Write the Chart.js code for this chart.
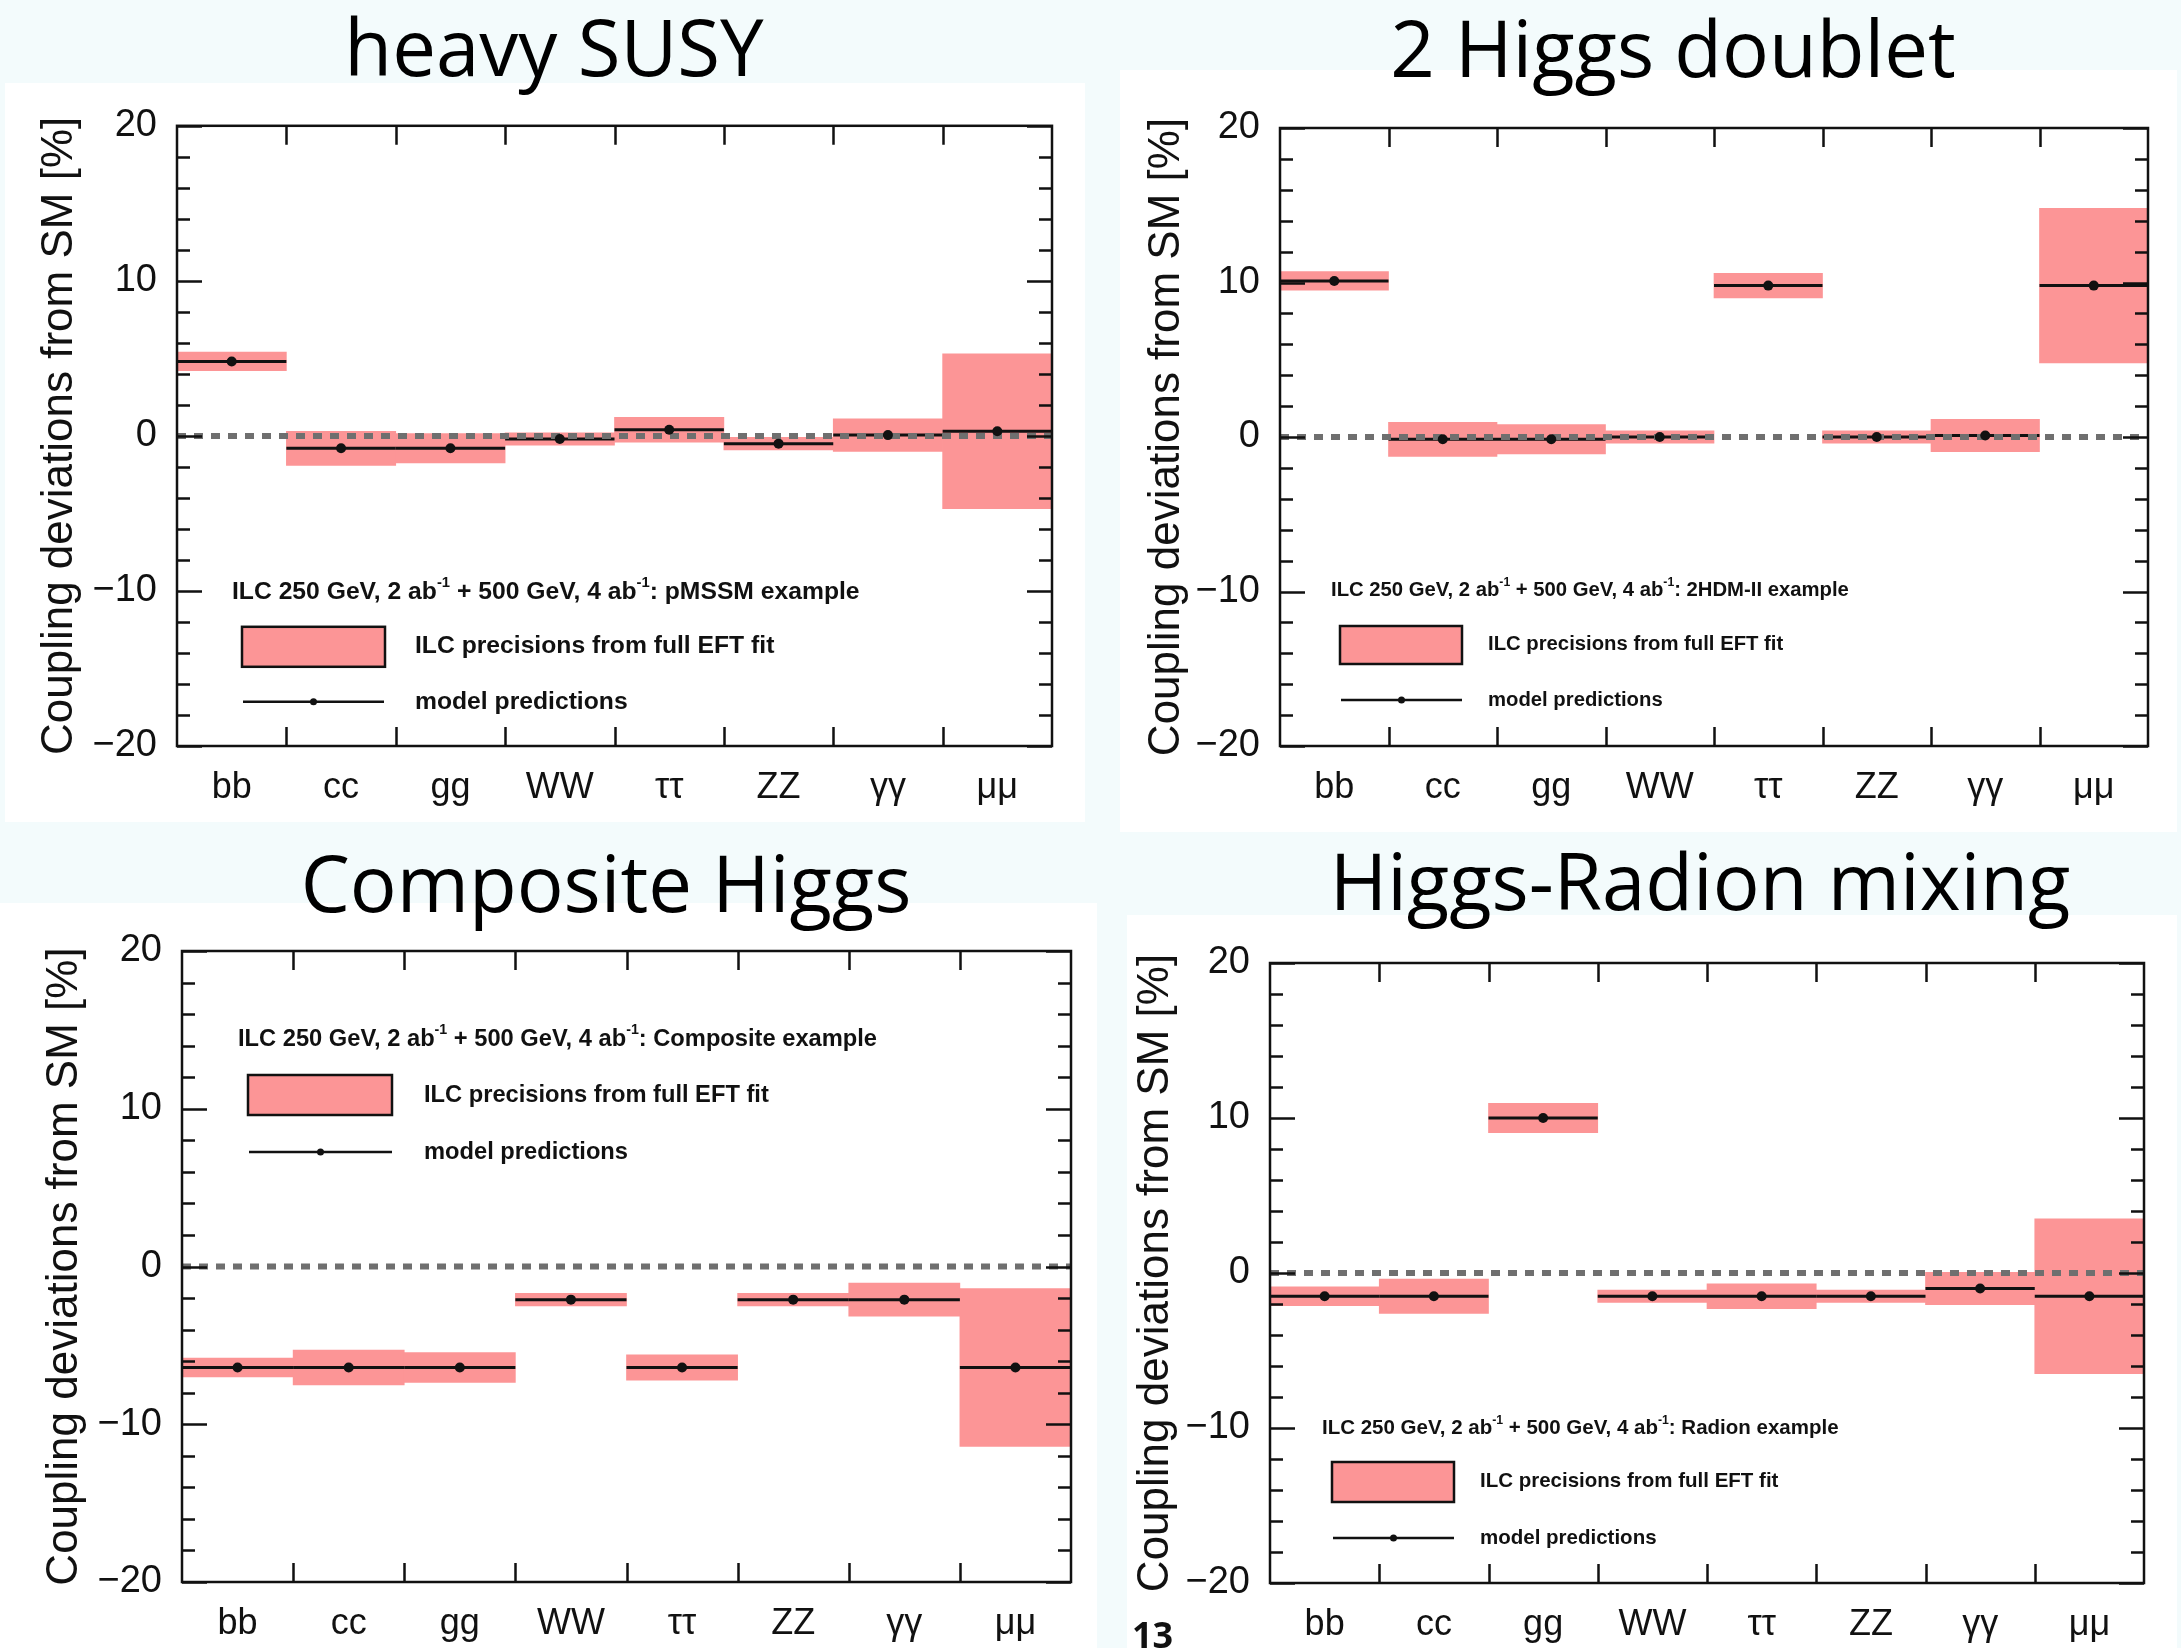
<!DOCTYPE html>
<html>
<head>
<meta charset="utf-8">
<title>Higgs coupling deviations — four BSM scenarios</title>
<script src="https://cdn.jsdelivr.net/npm/chart.js@4/dist/chart.umd.min.js"></script>
<style>
  html, body { margin: 0; padding: 0; }
  body {
    width: 2181px; height: 1648px; position: relative; overflow: hidden;
    background: #f3fbfc;
    font-family: "Liberation Sans", Arial, sans-serif;
  }
  .panel { position: absolute; background: #ffffff; z-index: 1; }
  .panel canvas { position: absolute; left: 0; top: 0; }
  .slide-title {
    position: absolute; transform: translateX(-50%); z-index: 2;
    font-family: "Open Sans", "Noto Sans", sans-serif;
    font-size: 78px; line-height: 78px; color: #000; white-space: nowrap;
  }
  .page-number {
    position: absolute; left: 1132px; top: 1617px; z-index: 2;
    font-family: "Open Sans", "Noto Sans", sans-serif; font-weight: bold;
    font-size: 36px; line-height: 36px; color: #111;
  }
</style>
</head>
<body>
<div class="page-number">13</div>
<script>
// Higgs coupling channels on the horizontal axis
const categories = ['bb', 'cc', 'gg', 'WW', 'ττ', 'ZZ', 'γγ', 'μμ'];

// Expected ILC precision (half height of each shaded band), in %
const ilcPrecision = [0.6, 1.1, 0.95, 0.4, 0.8, 0.4, 1.05, 5.0];

// Model predictions for the deviation from the SM coupling, in %
const susyPrediction      = [4.8, -0.8, -0.8, -0.2, 0.4, -0.5, 0.05, 0.3];
const thdmPrediction      = [10.1, -0.15, -0.15, 0.0, 9.8, 0.0, 0.1, 9.8];
const compositePrediction = [-6.4, -6.4, -6.4, -2.1, -6.4, -2.1, -2.1, -6.4];
const radionPrediction    = [-1.5, -1.5, 10.0, -1.5, -1.5, -1.5, -1.0, -1.5];

// Vertical axis
const yTickValues = [-20, -10, 0, 10, 20];
const yTickLabels = ['−20', '−10', '0', '10', '20'];
const yMinorStep = 2;
const smReference = 0;

const PINK = 'rgb(252,149,150)';
const FONT = '"Liberation Sans", Arial, sans-serif';

// Page layout of the four panels (page pixels) and their in-plot legends
const panels = [
  {
    title: 'heavy SUSY', titleX: 554, titleBase: 76,
    prediction: susyPrediction, scenario: 'pMSSM example',
    box: { x: 5, y: 83, w: 1080, h: 739 },
    plot: { l: 177, t: 124, r: 1052, b: 746 }, yTitleX: 60,
    legend: { size: 24.7, hx: 55, hy: 466, box: [65, 501, 208, 541], lx: 238, ly: 520, line: [66, 207], my: 576 }
  },
  {
    title: '2 Higgs doublet', titleX: 1673, titleBase: 77,
    prediction: thdmPrediction, scenario: '2HDM-II example',
    box: { x: 1120, y: 70, w: 1057, h: 762 },
    plot: { l: 1280, t: 128, r: 2148, b: 746 }, yTitleX: 1167,
    legend: { size: 20.3, hx: 51, hy: 462, box: [60, 498, 182, 536], lx: 208, ly: 516, line: [61, 182], my: 572 }
  },
  {
    title: 'Composite Higgs', titleX: 606, titleBase: 912,
    prediction: compositePrediction, scenario: 'Composite example',
    box: { x: 0, y: 903, w: 1097, h: 745 },
    plot: { l: 182, t: 951, r: 1071, b: 1582 }, yTitleX: 65,
    legend: { size: 23.7, hx: 56, hy: 88, box: [66, 124, 210, 164], lx: 242, ly: 144, line: [67, 210], my: 201 }
  },
  {
    title: 'Higgs-Radion mixing', titleX: 1700, titleBase: 910,
    prediction: radionPrediction, scenario: 'Radion example',
    box: { x: 1127, y: 915, w: 1050, h: 733 },
    plot: { l: 1270, t: 963, r: 2144, b: 1583 }, yTitleX: 1156,
    legend: { size: 20.5, hx: 52, hy: 465, box: [62, 499, 184, 539], lx: 210, ly: 518, line: [63, 184], my: 575 }
  }
];

// Draws a run of text pieces, some of them as superscripts
function drawRichText(ctx, parts, x, y, size) {
  let cx = x;
  for (const p of parts) {
    const s = p.sup ? size * 0.6 : size;
    ctx.font = `bold ${s}px ${FONT}`;
    ctx.fillText(p.text, cx, p.sup ? y - size * 0.36 : y);
    cx += ctx.measureText(p.text).width;
  }
}

// ROOT-style frame: dotted SM line, inward ticks, border and legend
const rootFrame = {
  id: 'rootFrame',
  afterDatasetDraw(chart, args) {
    if (args.index !== 1) return;
    const { ctx, chartArea: a, scales: { y } } = chart;
    const y0 = y.getPixelForValue(smReference);
    ctx.save();
    ctx.beginPath();
    ctx.setLineDash([9, 8]);
    ctx.lineWidth = 6;
    ctx.strokeStyle = '#6f6f6f';
    ctx.moveTo(a.left, y0);
    ctx.lineTo(a.right, y0);
    ctx.stroke();
    ctx.restore();
  },
  afterDraw(chart, args, opts) {
    const { ctx, chartArea: a, scales: { x, y } } = chart;
    ctx.save();
    ctx.strokeStyle = '#111';
    ctx.lineWidth = 2.5;
    ctx.beginPath();
    // y ticks on both sides, pointing inwards
    for (let v = y.min; v <= y.max + 1e-9; v += yMinorStep) {
      const py = Math.round(y.getPixelForValue(v)) + 0.5;
      const len = (Math.abs(v % 10) < 1e-9) ? 25 : 13;
      ctx.moveTo(a.left, py); ctx.lineTo(a.left + len, py);
      ctx.moveTo(a.right, py); ctx.lineTo(a.right - len, py);
    }
    // x ticks at the category boundaries
    for (let i = 1; i < categories.length; i++) {
      const px = Math.round(x.getPixelForValue(i - 0.5)) + 0.5;
      ctx.moveTo(px, a.top); ctx.lineTo(px, a.top + 19);
      ctx.moveTo(px, a.bottom); ctx.lineTo(px, a.bottom - 19);
    }
    ctx.stroke();
    ctx.strokeRect(a.left, a.top, a.right - a.left, a.bottom - a.top);

    // legend
    const L = opts;
    const ox = a.left, oy = a.top;
    ctx.fillStyle = '#111';
    ctx.textAlign = 'left';
    ctx.textBaseline = 'middle';
    drawRichText(ctx, [
      { text: 'ILC 250 GeV, 2 ab' }, { text: '-1', sup: true },
      { text: ' + 500 GeV, 4 ab' }, { text: '-1', sup: true },
      { text: ': ' + L.scenario }
    ], ox + L.hx, oy + L.hy, L.size);

    const [bx0, by0, bx1, by1] = L.box;
    ctx.fillStyle = PINK;
    ctx.fillRect(ox + bx0, oy + by0, bx1 - bx0, by1 - by0);
    ctx.lineWidth = 2.5;
    ctx.strokeStyle = '#111';
    ctx.strokeRect(ox + bx0, oy + by0, bx1 - bx0, by1 - by0);

    ctx.fillStyle = '#111';
    ctx.font = `bold ${L.size}px ${FONT}`;
    ctx.fillText('ILC precisions from full EFT fit', ox + L.lx, oy + L.ly);

    ctx.beginPath();
    ctx.lineWidth = 2.5;
    ctx.moveTo(ox + L.line[0], oy + L.my);
    ctx.lineTo(ox + L.line[1], oy + L.my);
    ctx.stroke();
    ctx.beginPath();
    ctx.arc(ox + (L.line[0] + L.line[1]) / 2, oy + L.my, 3.5, 0, Math.PI * 2);
    ctx.fill();
    ctx.font = `bold ${L.size}px ${FONT}`;
    ctx.fillText('model predictions', ox + L.lx, oy + L.my);
    ctx.restore();
  }
};

const halfBin = (c) => {
  const s = c.chart.scales.x;
  return Math.abs(s.getPixelForValue(1) - s.getPixelForValue(0)) / 2;
};

for (const p of panels) {
  const div = document.createElement('div');
  div.className = 'panel';
  Object.assign(div.style, {
    left: p.box.x + 'px', top: p.box.y + 'px',
    width: p.box.w + 'px', height: p.box.h + 'px'
  });
  document.body.appendChild(div);

  const title = document.createElement('div');
  title.className = 'slide-title';
  title.textContent = p.title;
  title.style.left = p.titleX + 'px';
  title.style.top = (p.titleBase - 69) + 'px';
  document.body.appendChild(title);

  const canvas = document.createElement('canvas');
  canvas.width = p.box.w;
  canvas.height = p.box.h;
  canvas.style.width = p.box.w + 'px';
  canvas.style.height = p.box.h + 'px';
  div.appendChild(canvas);

  const yAxisWidth = p.plot.l - p.box.x;
  const xAxisHeight = p.box.y + p.box.h - p.plot.b;
  const yTitleFont = 44;
  const yTitlePad = p.yTitleX - p.box.x - yTitleFont * 1.2 / 2;

  new Chart(canvas, {
    type: 'bar',
    data: {
      labels: categories,
      datasets: [
        {
          type: 'bar',
          label: 'ILC precisions from full EFT fit',
          data: p.prediction.map((v, i) => [v - ilcPrecision[i], v + ilcPrecision[i]]),
          backgroundColor: PINK,
          borderWidth: 0,
          barPercentage: 1,
          categoryPercentage: 1,
          order: 3
        },
        {
          type: 'line',
          label: 'model predictions',
          data: p.prediction,
          showLine: false,
          pointStyle: 'line',
          pointRadius: halfBin,
          pointBorderWidth: 3,
          pointBorderColor: '#111',
          order: 2
        },
        {
          type: 'line',
          label: 'model predictions (centre)',
          data: p.prediction,
          showLine: false,
          pointStyle: 'circle',
          pointRadius: 5,
          pointBackgroundColor: '#111',
          pointBorderWidth: 0,
          order: 1
        }
      ]
    },
    options: {
      responsive: false,
      animation: false,
      events: [],
      layout: {
        padding: {
          left: 0,
          top: p.plot.t - p.box.y,
          right: p.box.x + p.box.w - p.plot.r,
          bottom: 0
        }
      },
      plugins: {
        legend: { display: false },
        tooltip: { enabled: false },
        rootFrame: Object.assign({ scenario: p.scenario }, p.legend)
      },
      scales: {
        x: {
          type: 'category',
          offset: true,
          grid: { display: false, drawTicks: false },
          border: { display: false },
          ticks: {
            font: { family: FONT, size: 36 },
            color: '#111', padding: 20, maxRotation: 0, autoSkip: false
          },
          afterFit: (s) => { s.height = xAxisHeight; }
        },
        y: {
          min: yTickValues[0],
          max: yTickValues[yTickValues.length - 1],
          grid: { display: false, drawTicks: false },
          border: { display: false },
          afterBuildTicks: (s) => { s.ticks = yTickValues.map(v => ({ value: v })); },
          ticks: {
            callback: (v) => yTickLabels[yTickValues.indexOf(v)],
            font: { family: FONT, size: 38 },
            color: '#111', padding: 20
          },
          title: {
            display: true,
            text: 'Coupling deviations from SM [%]',
            font: { family: FONT, size: yTitleFont },
            color: '#111',
            padding: { top: yTitlePad, bottom: 0 }
          },
          afterFit: (s) => { s.width = yAxisWidth; }
        }
      }
    },
    plugins: [rootFrame]
  });
}
</script>
</body>
</html>
